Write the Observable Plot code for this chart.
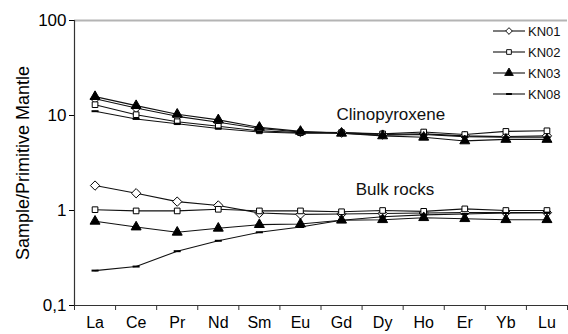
<!DOCTYPE html>
<html>
<head>
<meta charset="utf-8">
<script src="https://cdn.jsdelivr.net/npm/d3@7"></script>
<script src="https://cdn.jsdelivr.net/npm/@observablehq/plot@0.6"></script>
<style>
  body { margin: 0; background: #fff; }
  #chart { position: relative; width: 568px; height: 334px; }
  #chart svg g[aria-label="y-axis tick label"] text { font-size: 17px; }
  #chart svg g[aria-label="x-axis tick label"] text { font-size: 16px; }
  #chart svg g[aria-label="y-axis label"] text { font-size: 18px; }
</style>
</head>
<body>
<div id="chart"></div>
<script>
const elements = ["La", "Ce", "Pr", "Nd", "Sm", "Eu", "Gd", "Dy", "Ho", "Er", "Yb", "Lu"];
const sampleNames = ["KN01", "KN02", "KN03", "KN08"];

// Clinopyroxene (sample / primitive mantle)
const cpxKN01 = [15.0, 12.0, 9.8, 8.5, 7.3, 6.7, 6.6, 6.3, 6.4, 6.1, 6.0, 6.1];
const cpxKN02 = [13.0, 10.2, 8.6, 7.7, 6.9, 6.6, 6.6, 6.4, 6.7, 6.3, 6.8, 6.9];
const cpxKN03 = [15.8, 12.7, 10.3, 9.0, 7.5, 6.8, 6.5, 6.1, 5.9, 5.4, 5.6, 5.6];
const cpxKN08 = [11.1, 9.2, 8.2, 7.3, 6.7, 6.5, 6.5, 6.2, 6.3, 6.0, 5.9, 5.9];

// Bulk rocks (sample / primitive mantle)
const bulkKN01 = [1.83, 1.52, 1.24, 1.13, 0.94, 0.91, 0.92, 0.93, 0.94, 0.95, 0.95, 0.95];
const bulkKN02 = [1.02, 0.99, 0.99, 1.03, 0.99, 0.99, 0.97, 1.0, 0.98, 1.04, 1.0, 1.0];
const bulkKN03 = [0.77, 0.67, 0.59, 0.65, 0.71, 0.72, 0.79, 0.80, 0.84, 0.82, 0.80, 0.80];
const bulkKN08 = [0.233, 0.257, 0.373, 0.48, 0.59, 0.67, 0.79, 0.86, 0.90, 0.92, 0.94, 0.95];

const yTicks = [0.1, 1, 10, 100];
const yTickLabels = ["0,1", "1", "10", "100"];
const groupLabels = [
  {text: "Clinopyroxene", pos: 7.7, value: 10.2},
  {text: "Bulk rocks", pos: 7.8, value: 1.66}
];

const dashSymbol = {
  draw(context, size) {
    const w = Math.sqrt(size) * 0.55;
    context.rect(-w, -1, 2 * w, 2);
  }
};
const symbolFor = {KN01: "diamond2", KN02: "square2", KN03: "triangle", KN08: dashSymbol};
const fillFor = {KN01: "white", KN02: "white", KN03: "black", KN08: "black"};
const radiusFor = {KN01: 4.2, KN02: 3.6, KN03: 3.7, KN08: 3.6};

const cpxSeries = {KN01: cpxKN01, KN02: cpxKN02, KN03: cpxKN03, KN08: cpxKN08};
const bulkSeries = {KN01: bulkKN01, KN02: bulkKN02, KN03: bulkKN03, KN08: bulkKN08};

const rows = [];
for (const [type, series] of [["cpx", cpxSeries], ["bulk", bulkSeries]]) {
  for (const s of sampleNames) {
    series[s].forEach((v, i) => rows.push({type, sample: s, key: type + s, pos: i + 0.5, element: elements[i], value: v}));
  }
}

const dotMarks = sampleNames.map(s => Plot.dot(rows.filter(d => d.sample === s), {
  x: "pos", y: "value", symbol: () => symbolFor[s], r: radiusFor[s],
  fill: fillFor[s], stroke: s === "KN08" ? "none" : "black", strokeWidth: 1
}));

const chart = Plot.plot({
  width: 568,
  height: 334,
  marginLeft: 74,
  marginRight: 1,
  marginTop: 20,
  marginBottom: 29,
  style: {fontFamily: "'Liberation Sans', Arial, sans-serif", fontSize: "16px", color: "#000", background: "#fff"},
  x: {type: "linear", domain: [0, 12], axis: null},
  y: {type: "log", domain: [0.1, 100], axis: null},
  symbol: {type: "identity"},
  marks: [
    Plot.ruleY([100], {stroke: "#b4b4b4", strokeWidth: 2}),
    Plot.axisY({ticks: yTicks, tickFormat: d => yTickLabels[yTicks.indexOf(d)], tickSize: 5, tickPadding: 3,
      label: "Sample/Primitive Mantle", labelAnchor: "center", labelArrow: "none", labelOffset: 58}),
    Plot.ruleX([0], {stroke: "#333", strokeWidth: 1.2}),
    Plot.ruleY([0.1], {stroke: "#333", strokeWidth: 1.2}),
    Plot.axisX({ticks: d3.range(13), tickFormat: () => "", tickSize: 5, stroke: "#333", label: null}),
    Plot.axisX({ticks: d3.range(12).map(i => i + 0.5), tickFormat: d => elements[Math.floor(d)], tickSize: 0, tickPadding: 11, label: null}),
    Plot.line(rows, {x: "pos", y: "value", z: "key", stroke: "#111", strokeWidth: 1.1}),
    ...dotMarks,
    Plot.text(groupLabels, {x: "pos", y: "value", text: "text", fontSize: 17, fill: "#111"})
  ]
});

const container = document.getElementById("chart");
container.appendChild(chart);

// Legend (top right, inside the frame)
const svg = d3.select(chart);
const lg = svg.append("g").attr("transform", "translate(493,31)");
sampleNames.forEach((s, i) => {
  const g = lg.append("g").attr("transform", `translate(0,${i * 21})`);
  g.append("line").attr("x1", 0).attr("x2", 32).attr("y1", 0).attr("y2", 0).attr("stroke", "#111").attr("stroke-width", 1.1);
  const type = s === "KN01" ? d3.symbolDiamond2 : s === "KN02" ? d3.symbolSquare2 : s === "KN03" ? d3.symbolTriangle : dashSymbol;
  const size = s === "KN03" ? 32 : 28;
  g.append("path").attr("transform", "translate(16,0)").attr("d", d3.symbol(type, size)())
    .attr("fill", fillFor[s]).attr("stroke", s === "KN08" ? "none" : "#111");
  g.append("text").attr("x", 35).attr("y", 0).attr("dy", "0.35em").attr("font-size", 13)
    .attr("text-anchor", "start")
    .attr("font-family", "'Liberation Sans', Arial, sans-serif").attr("fill", "#111").text(s);
});
</script>
</body>
</html>
